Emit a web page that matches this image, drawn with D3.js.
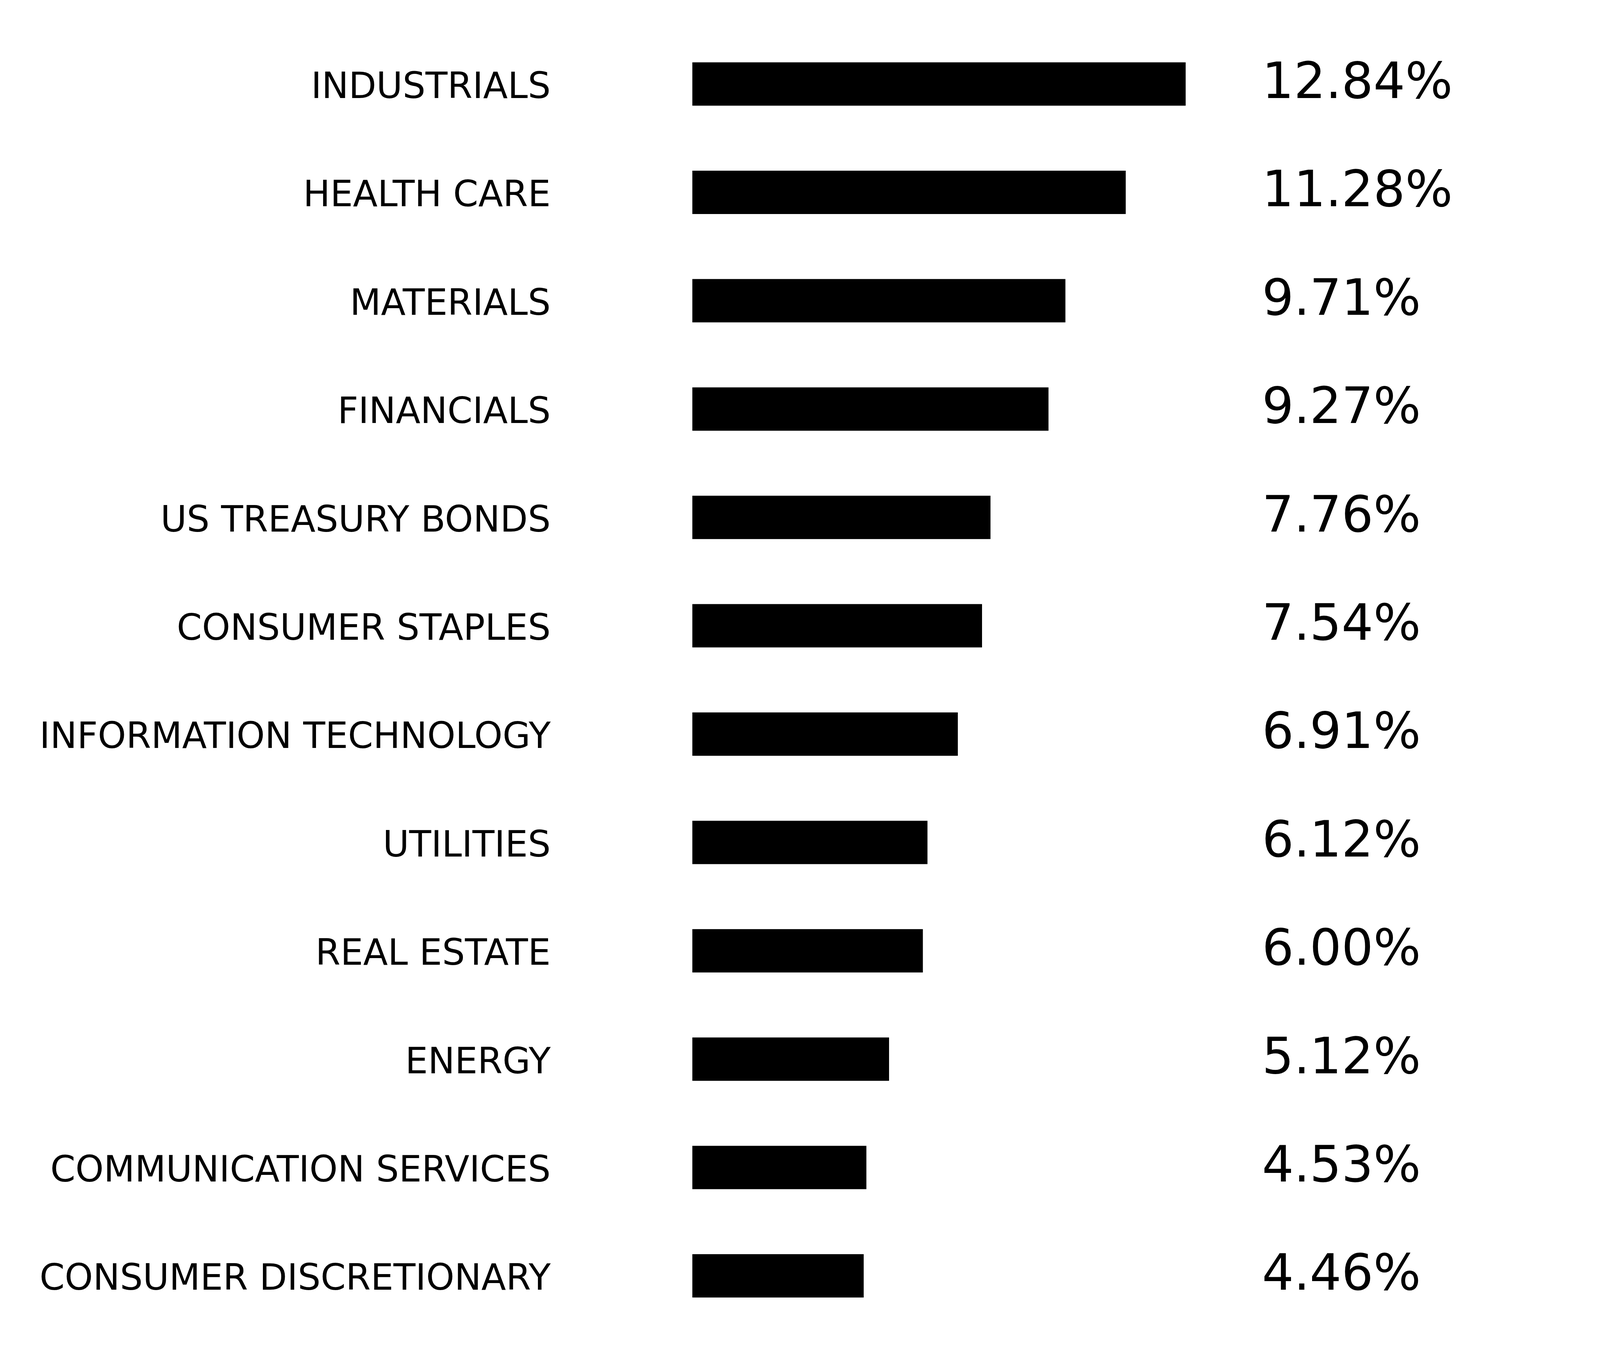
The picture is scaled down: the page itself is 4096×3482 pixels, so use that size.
<!DOCTYPE html>
<html><head><meta charset="utf-8">
<script src="https://cdn.jsdelivr.net/npm/d3@7"></script>
<style>html,body{margin:0;padding:0;background:#fff;}</style>
</head><body>
<script>
const categories = ["INDUSTRIALS","HEALTH CARE","MATERIALS","FINANCIALS","US TREASURY BONDS","CONSUMER STAPLES","INFORMATION TECHNOLOGY","UTILITIES","REAL ESTATE","ENERGY","COMMUNICATION SERVICES","CONSUMER DISCRETIONARY"];
const values = [12.84,11.28,9.71,9.27,7.76,7.54,6.91,6.12,6.00,5.12,4.53,4.46];
const valueLabels = ["12.84%","11.28%","9.71%","9.27%","7.76%","7.54%","6.91%","6.12%","6.00%","5.12%","4.53%","4.46%"];

const W = 4096, H = 3482, s = W / 4800;
const svg = d3.select("body").append("svg").attr("width", W).attr("height", H)
  .style("display","block").style("background","#fff");

const x = d3.scaleLinear().domain([0, 12.84]).range([2077 * s, 3557 * s]);
const y = d3.scaleBand().domain(categories).range([89.5 * s, 3990.5 * s])
  .paddingInner(0.6).paddingOuter(0.3);

const data = categories.map((c, i) => ({c, v: values[i], t: valueLabels[i]}));

svg.selectAll("rect.bar").data(data).join("rect").attr("class","bar")
  .attr("x", x(0)).attr("y", d => y(d.c))
  .attr("width", d => x(d.v) - x(0)).attr("height", y.bandwidth())
  .attr("fill", "#000");

svg.selectAll("text.cat").data(data).join("text").attr("class","cat")
  .attr("x", 1652 * s).attr("y", d => y(d.c) + y.bandwidth() / 2 + 42 * s)
  .attr("text-anchor", "end")
  .attr("font-family", "DejaVu Sans")
  .attr("font-size", 108 * s)
  .attr("fill", "#000")
  .text(d => d.c);

svg.selectAll("text.val").data(data).join("text").attr("class","val")
  .attr("x", 3786 * s).attr("y", d => y(d.c) + y.bandwidth() / 2 + 42 * s)
  .attr("text-anchor", "start")
  .attr("font-family", "DejaVu Sans")
  .attr("font-size", 150 * s)
  .attr("fill", "#000")
  .text(d => d.t);
</script>
</body></html>
